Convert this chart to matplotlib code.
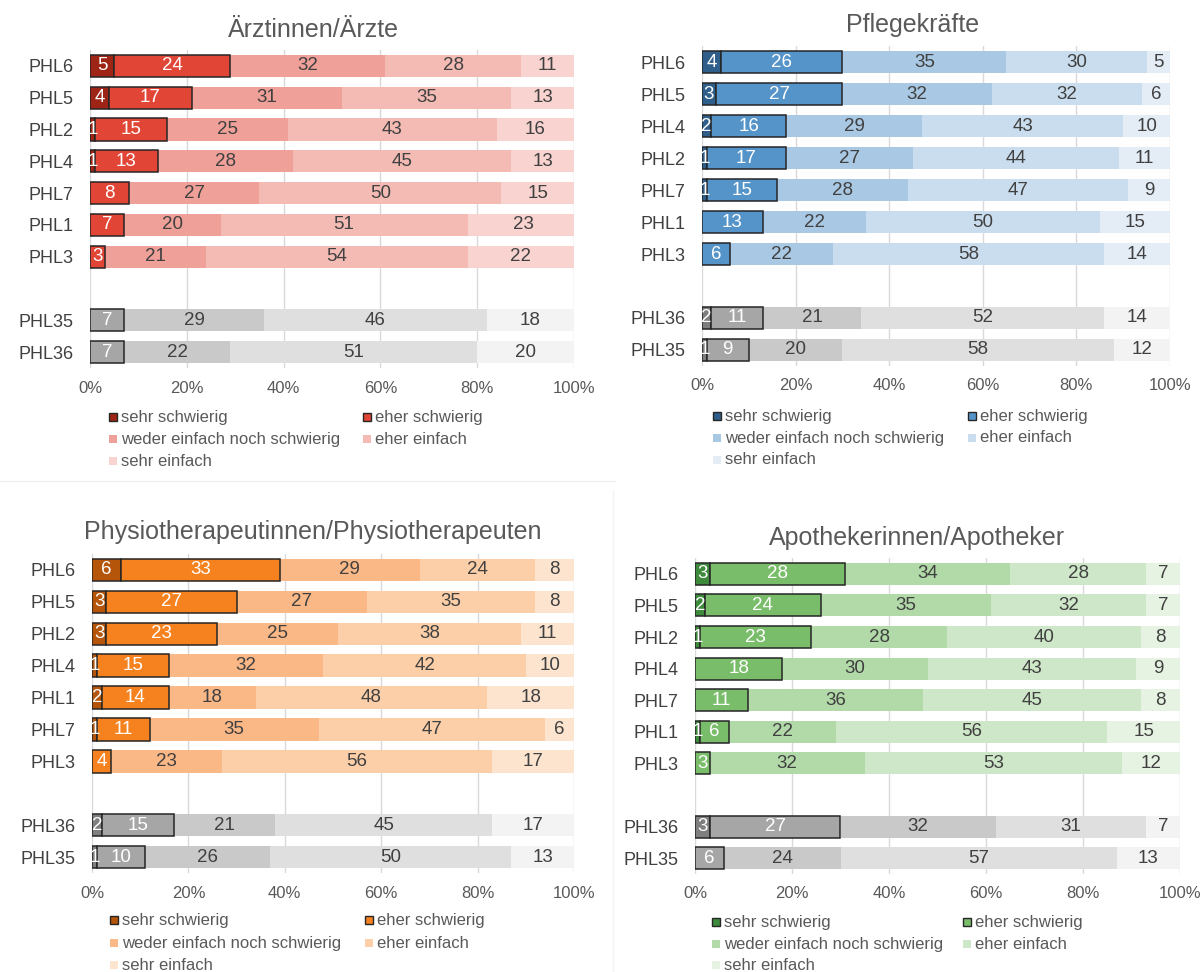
import matplotlib
matplotlib.use("Agg")
import matplotlib.pyplot as plt
from matplotlib.patches import Rectangle
from matplotlib.lines import Line2D

plt.rcParams['font.family'] = ['Liberation Sans', 'DejaVu Sans']

W, H = 1201, 972
DPI = 100

answer_levels = ["sehr schwierig", "eher schwierig", "weder einfach noch schwierig",
                 "eher einfach", "sehr einfach"]
tick_values = [0, 20, 40, 60, 80, 100]
tick_labels = ["0%", "20%", "40%", "60%", "80%", "100%"]

# --- Ärztinnen/Ärzte ---
aerzte_rows = ["PHL6", "PHL5", "PHL2", "PHL4", "PHL7", "PHL1", "PHL3"]
aerzte_vals = [[5, 24, 32, 28, 11],
               [4, 17, 31, 35, 13],
               [1, 15, 25, 43, 16],
               [1, 13, 28, 45, 13],
               [0, 8, 27, 50, 15],
               [0, 7, 20, 51, 23],
               [0, 3, 21, 54, 22]]
aerzte_ref_rows = ["PHL35", "PHL36"]
aerzte_ref_vals = [[0, 7, 29, 46, 18],
                   [0, 7, 22, 51, 20]]

# --- Pflegekräfte ---
pflege_rows = ["PHL6", "PHL5", "PHL4", "PHL2", "PHL7", "PHL1", "PHL3"]
pflege_vals = [[4, 26, 35, 30, 5],
               [3, 27, 32, 32, 6],
               [2, 16, 29, 43, 10],
               [1, 17, 27, 44, 11],
               [1, 15, 28, 47, 9],
               [0, 13, 22, 50, 15],
               [0, 6, 22, 58, 14]]
pflege_ref_rows = ["PHL36", "PHL35"]
pflege_ref_vals = [[2, 11, 21, 52, 14],
                   [1, 9, 20, 58, 12]]

# --- Physiotherapeutinnen/Physiotherapeuten ---
physio_rows = ["PHL6", "PHL5", "PHL2", "PHL4", "PHL1", "PHL7", "PHL3"]
physio_vals = [[6, 33, 29, 24, 8],
               [3, 27, 27, 35, 8],
               [3, 23, 25, 38, 11],
               [1, 15, 32, 42, 10],
               [2, 14, 18, 48, 18],
               [1, 11, 35, 47, 6],
               [0, 4, 23, 56, 17]]
physio_ref_rows = ["PHL36", "PHL35"]
physio_ref_vals = [[2, 15, 21, 45, 17],
                   [1, 10, 26, 50, 13]]

# --- Apothekerinnen/Apotheker ---
apo_rows = ["PHL6", "PHL5", "PHL2", "PHL4", "PHL7", "PHL1", "PHL3"]
apo_vals = [[3, 28, 34, 28, 7],
            [2, 24, 35, 32, 7],
            [1, 23, 28, 40, 8],
            [0, 18, 30, 43, 9],
            [0, 11, 36, 45, 8],
            [1, 6, 22, 56, 15],
            [0, 3, 32, 53, 12]]
apo_ref_rows = ["PHL36", "PHL35"]
apo_ref_vals = [[3, 27, 32, 31, 7],
                [0, 6, 24, 57, 13]]

red_colors = ["#9E2416", "#E14535", "#EFA098", "#F4BBB5", "#F8D3CF"]
blue_colors = ["#2E5E89", "#5594C8", "#A9C8E3", "#CADDEE", "#E4EDF6"]
orange_colors = ["#B45509", "#F6821F", "#FBB887", "#FCCFA8", "#FDE4CF"]
green_colors = ["#3E8A3C", "#79BD6A", "#B2DAA9", "#CEE7C8", "#E6F3E2"]
grey_colors = ["#7F7F7F", "#A6A6A6", "#C9C9C9", "#DFDFDF", "#F3F3F3"]

TEXT_DARK = "#404040"
TEXT_MID = "#595959"

fig = plt.figure(figsize=(W / DPI, H / DPI), dpi=DPI)
fig.patch.set_facecolor("white")


def px_axes(x0, x1, top, bottom):
    return fig.add_axes([x0 / W, 1 - bottom / H, (x1 - x0) / W, (bottom - top) / H])


def draw_panel(rect, title, title_xy, rows, vals, ref_rows, ref_vals, colors,
               legend_cols, legend_rows):
    x0, x1, top, bottom = rect
    ax = px_axes(x0, x1, top, bottom)
    n = len(rows)
    positions = list(range(n)) + [n + 1 + i for i in range(len(ref_rows))]
    all_rows = rows + ref_rows
    all_vals = vals + ref_vals
    all_cols = [colors] * n + [grey_colors] * len(ref_rows)

    bar_h = 0.7
    for y, v, cols in zip(positions, all_vals, all_cols):
        lefts = [sum(v[:k]) for k in range(5)]
        # light segments first, outlined ones on top
        for k in [2, 3, 4, 0, 1]:
            if v[k] <= 0:
                continue
            outlined = k < 2
            ax.barh(y, v[k], left=lefts[k], height=bar_h, color=cols[k],
                    edgecolor="#262626" if outlined else cols[k],
                    linewidth=1.1 if outlined else 0,
                    zorder=3 if outlined else 2)
        for k in range(5):
            if v[k] <= 0:
                continue
            ax.text(lefts[k] + v[k] / 2, y, str(v[k]), ha="center", va="center",
                    fontsize=13.5, color="white" if k < 2 else TEXT_DARK, zorder=4)

    ax.set_xlim(0, 100)
    ax.set_ylim(positions[-1] + 0.5, -0.5)
    ax.set_yticks(positions)
    ax.set_yticklabels(all_rows, fontsize=13, color=TEXT_DARK)
    ax.set_xticks(tick_values)
    ax.set_xticklabels(tick_labels, fontsize=12, color=TEXT_MID)
    ax.tick_params(axis="both", length=0)
    ax.tick_params(axis="y", pad=12)
    ax.tick_params(axis="x", pad=9)
    for s in ax.spines.values():
        s.set_visible(False)
    ax.grid(axis="x", color="#D9D9D9", linewidth=1, zorder=0)
    ax.set_axisbelow(True)

    fig.text(title_xy[0] / W, 1 - title_xy[1] / H, title, ha="center", va="center",
             fontsize=18, color=TEXT_MID)

    # legend: two columns, row-major order
    for i, (lab, col) in enumerate(zip(answer_levels, colors)):
        cx = legend_cols[i % 2]
        cy = legend_rows[i // 2]
        outlined = i < 2
        sq = 8
        fig.patches.append(Rectangle((cx / W, 1 - (cy + sq / 2) / H), sq / W, sq / H,
                                     transform=fig.transFigure, facecolor=col,
                                     edgecolor="#262626" if outlined else col,
                                     linewidth=1.0 if outlined else 0))
        fig.text((cx + sq + 4) / W, 1 - cy / H, lab, ha="left", va="center",
                 fontsize=12, color=TEXT_MID)
    return ax


draw_panel((90, 574, 50, 368), "Ärztinnen/Ärzte", (313, 30),
           aerzte_rows, aerzte_vals, aerzte_ref_rows, aerzte_ref_vals, red_colors,
           (109, 363), (417, 439, 461))
draw_panel((702, 1170, 46, 366), "Pflegekräfte", (913, 25),
           pflege_rows, pflege_vals, pflege_ref_rows, pflege_ref_vals, blue_colors,
           (713, 968), (416, 438, 460))
draw_panel((92, 574, 554, 873), "Physiotherapeutinnen/Physiotherapeuten", (313, 532),
           physio_rows, physio_vals, physio_ref_rows, physio_ref_vals, orange_colors,
           (110, 365), (920, 943, 965))
draw_panel((695, 1180, 558, 874), "Apothekerinnen/Apotheker", (917, 538),
           apo_rows, apo_vals, apo_ref_rows, apo_ref_vals, green_colors,
           (712, 963), (922, 944, 965))

# faint panel separators
fig.add_artist(Line2D([0, 615 / W], [1 - 481 / H, 1 - 481 / H],
                      transform=fig.transFigure, color="#F0F0F0", linewidth=1))
fig.add_artist(Line2D([613 / W, 613 / W], [1 - 490 / H, 0],
                      transform=fig.transFigure, color="#F4F4F4", linewidth=1))

fig.savefig("out.png", dpi=DPI, facecolor="white")
